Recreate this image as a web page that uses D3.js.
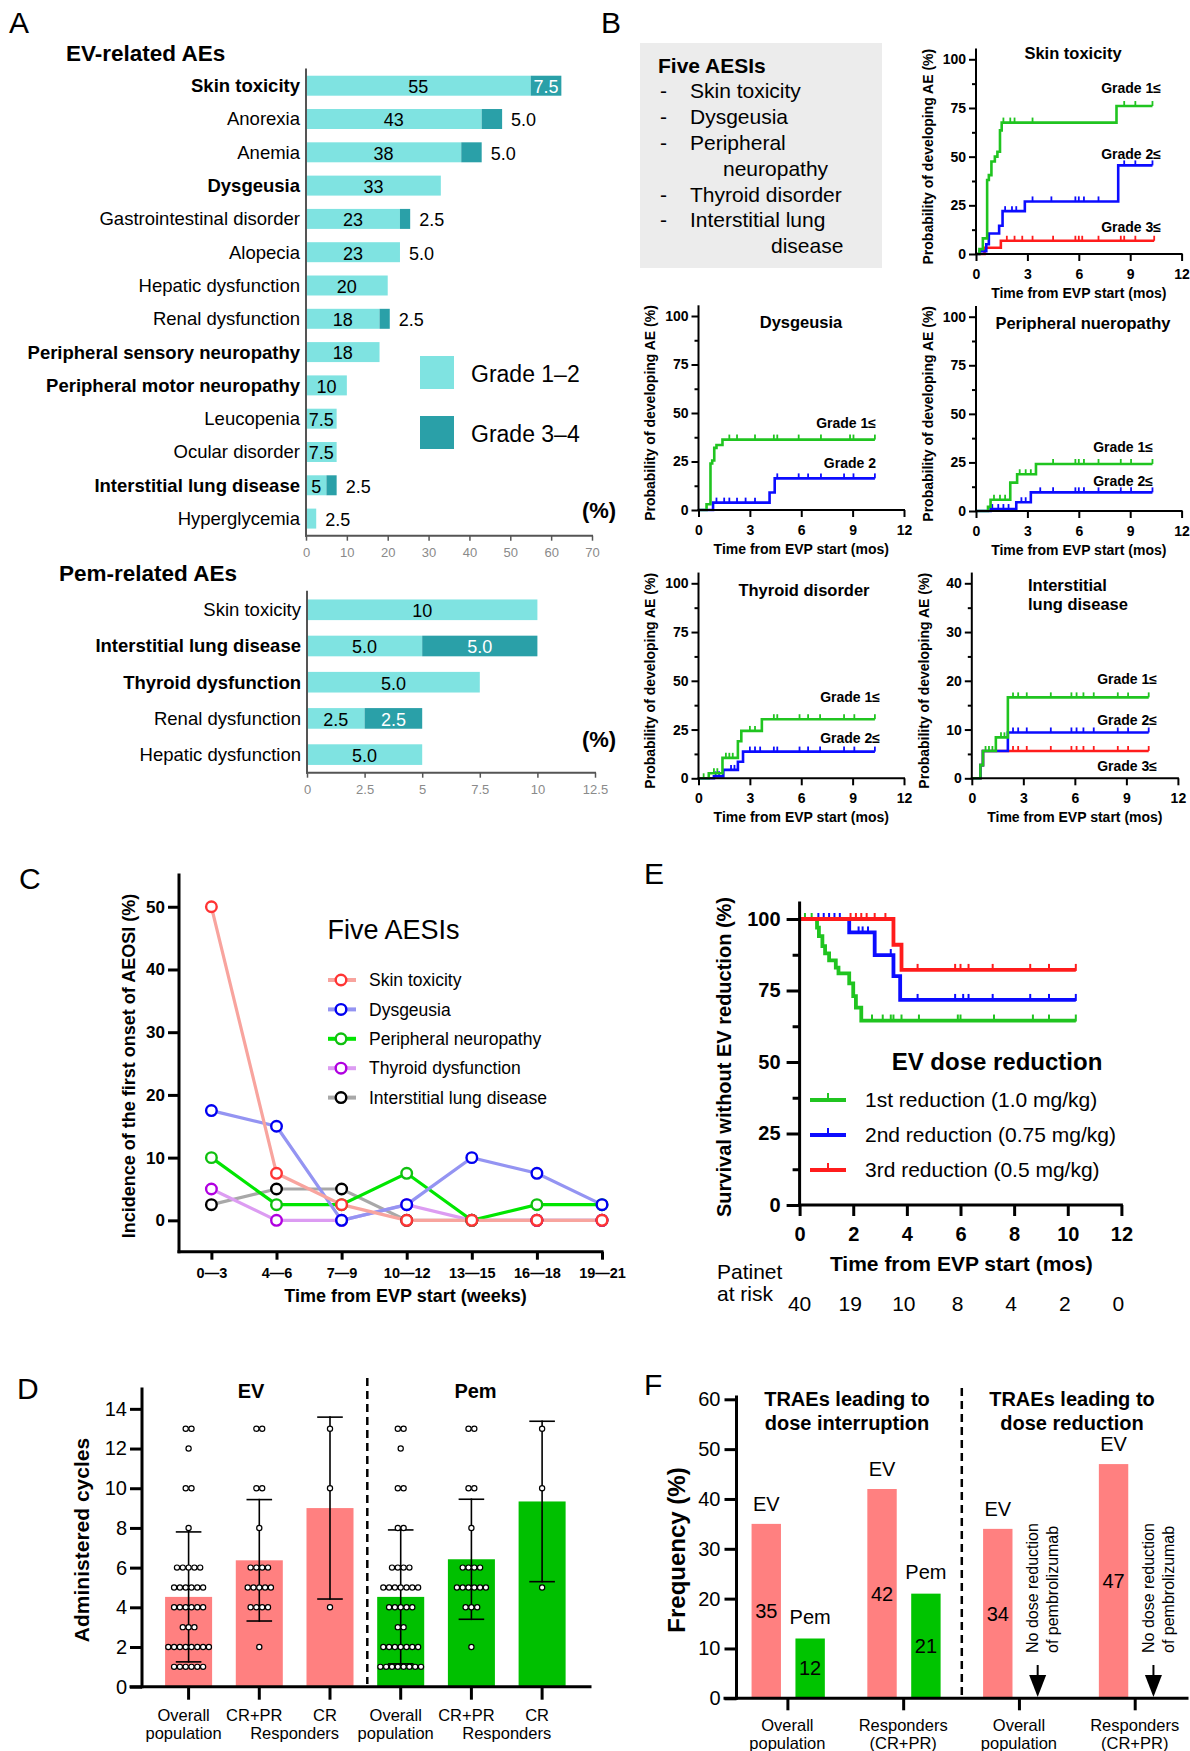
<!DOCTYPE html>
<html>
<head>
<meta charset="utf-8">
<script src="https://cdn.jsdelivr.net/npm/d3@7"></script>
<style>
  body { margin: 0; background: #fff; }
  svg { display: block; font-family: "Liberation Sans", Arial, sans-serif; }
</style>
</head>
<body>
<svg id="fig" width="1190" height="1751"></svg>
<script>
// ---------- A: AE bars ----------
const evCats = ["Skin toxicity", "Anorexia", "Anemia", "Dysgeusia", "Gastrointestinal disorder", "Alopecia",
  "Hepatic dysfunction", "Renal dysfunction", "Peripheral sensory neuropathy", "Peripheral motor neuropathy",
  "Leucopenia", "Ocular disorder", "Interstitial lung disease", "Hyperglycemia"];
const evBold = [1, 0, 0, 1, 0, 0, 0, 0, 1, 1, 0, 0, 1, 0];
const evGrade12 = [55, 43, 38, 33, 23, 23, 20, 18, 18, 10, 7.5, 7.5, 5, 2.5];
const evGrade34 = [7.5, 5, 5, 0, 2.5, 0, 0, 2.5, 0, 0, 0, 0, 2.5, 0];
const evLabel12 = ["55", "43", "38", "33", "23", "23", "20", "18", "18", "10", "7.5", "7.5", "5", ""];
const evLabel34 = ["7.5", "5.0", "5.0", "", "2.5", "5.0", "", "2.5", "", "", "", "", "2.5", "2.5"];
const evTicks = [0, 10, 20, 30, 40, 50, 60, 70];

const pemCats = ["Skin toxicity", "Interstitial lung disease", "Thyroid dysfunction", "Renal dysfunction", "Hepatic dysfunction"];
const pemBold = [0, 1, 1, 0, 0];
const pemGrade12 = [10, 5, 7.5, 2.5, 5];
const pemGrade34 = [0, 5, 0, 2.5, 0];
const pemLabel12 = ["10", "5.0", "5.0", "2.5", "5.0"];
const pemLabel34 = ["", "5.0", "", "2.5", ""];
const pemTicks = [0, 2.5, 5, 7.5, 10, 12.5];

// ---------- B: cumulative incidence (time in months, %) ----------
const aesiList = [["Skin toxicity"], ["Dysgeusia"], ["Peripheral", "neuropathy"], ["Thyroid disorder"], ["Interstitial lung", "disease"]];
const kmTicksX = [0, 3, 6, 9, 12];

const skinG1 = [[0, 0], [0.2, 2.5], [0.4, 8], [0.65, 38], [0.75, 40.5], [0.9, 47.5], [1.1, 50], [1.25, 52.5], [1.4, 63.5], [1.5, 67.5], [8.2, 76], [10.3, 76]];
const skinG1Cens = [1.6, 2.0, 2.25, 3.3, 8.65, 9.3, 10.3];
const skinG2 = [[0, 0], [0.2, 1.5], [0.6, 5], [0.75, 10.5], [1.35, 14.5], [1.55, 22], [2.85, 27], [8.3, 45.5], [10.3, 45.5]];
const skinG2Cens = [1.7, 2.1, 2.35, 3.3, 4.4, 5.8, 6.0, 6.3, 7.15, 8.65, 9.3, 10.3];
const skinG3 = [[0, 0], [0.5, 3.2], [1.45, 6.8], [10.4, 6.8]];
const skinG3Cens = [1.8, 2.25, 2.7, 3.3, 4.5, 5.8, 6.0, 6.2, 7.15, 8.45, 8.65, 9.3, 10.4];

const dysG1 = [[0, 0], [0.47, 3], [0.7, 24], [0.8, 25.5], [0.92, 32], [1.05, 33.5], [1.4, 36.3], [10.3, 36.3]];
const dysG1Cens = [1.8, 2.25, 3.3, 4.4, 4.6, 5.85, 7.15, 8.85, 9.05, 10.3];
const dysG2 = [[0, 0], [0.85, 3.8], [4.15, 9], [4.45, 16.3], [10.3, 16.3]];
const dysG2Cens = [1.05, 1.5, 1.8, 2.25, 2.75, 3.3, 4.6, 5.85, 6.4, 7.15, 8.5, 9.05, 10.3];

const pnG1 = [[0, 0], [0.7, 2.2], [0.85, 5.8], [2.0, 14.6], [2.4, 18.9], [3.5, 24.2], [10.3, 24.2]];
const pnG1Cens = [1.05, 1.4, 1.7, 2.55, 2.9, 3.2, 4.5, 5.8, 6.0, 6.3, 7.15, 8.45, 9.05, 10.3];
const pnG2 = [[0, 0], [0.85, 1], [2.35, 4.5], [3.2, 9.6], [10.3, 9.6]];
const pnG2Cens = [0.95, 1.3, 1.6, 1.9, 2.65, 2.9, 3.75, 4.5, 5.8, 6.0, 6.3, 7.15, 8.45, 9.05, 10.3];

const thyG1 = [[0, 0], [0.6, 2.6], [1.4, 10.5], [2.3, 19], [2.5, 24.3], [3.7, 30.3], [10.3, 30.3]];
const thyG1Cens = [0.3, 0.9, 1.1, 1.6, 1.8, 2.0, 3.0, 3.3, 4.4, 4.6, 5.9, 6.4, 7.1, 8.5, 9.1, 10.3];
const thyG2 = [[0, 0], [0.9, 1], [1.45, 4.3], [2.3, 8.5], [2.6, 13.7], [10.3, 13.7]];
const thyG2Cens = [1.0, 1.2, 1.9, 2.1, 3.0, 3.3, 3.6, 4.4, 4.6, 5.9, 6.4, 7.1, 8.5, 9.1, 10.3];

const ildG1 = [[0, 0], [0.5, 2.7], [0.65, 5.6], [1.4, 8.4], [2.1, 16.6], [10.3, 16.6]];
const ildG1Cens = [0.8, 1.0, 1.2, 1.7, 1.9, 2.4, 2.7, 3.2, 4.6, 5.8, 6.1, 6.5, 7.1, 8.5, 9.1, 10.3];
const ildG2 = [[0, 0], [0.5, 2.7], [0.65, 5.6], [2.1, 9.4], [10.3, 9.4]];
const ildG2Cens = [2.4, 2.7, 3.2, 4.6, 5.8, 6.1, 6.5, 7.1, 8.5, 9.1, 10.3];
const ildG3 = [[0, 0], [0.5, 2.7], [0.65, 5.6], [10.3, 5.6]];
const ildG3Cens = [2.4, 2.7, 3.2, 4.6, 5.8, 6.1, 6.5, 7.1, 8.5, 9.1, 10.3];

// ---------- C: first onset by week bin ----------
const weekBins = ["0\u20143", "4\u20146", "7\u20149", "10\u201412", "13\u201415", "16\u201418", "19\u201421"];
const aesiNames = ["Skin toxicity", "Dysgeusia", "Peripheral neuropathy", "Thyroid dysfunction", "Interstitial lung disease"];
const onsetSkin = [50, 7.5, 2.5, 0, 0, 0, 0];
const onsetDys = [17.5, 15, 0, 2.5, 10, 7.5, 2.5];
const onsetPN = [10, 2.5, 2.5, 7.5, 0, 2.5, 2.5];
const onsetThy = [5, 0, 0, 2.5, 0, 0, 0];
const onsetILD = [2.5, 5, 5, 0, 0, 0, 0];
const onsetTicks = [0, 10, 20, 30, 40, 50];

// ---------- D: administered cycles ----------
const cycleGroups = ["EV overall", "EV CR+PR", "EV CR", "Pem overall", "Pem CR+PR", "Pem CR"];
const cycleLab1 = ["Overall", "CR+PR", "CR", "Overall", "CR+PR", "CR"];
const cycleLab2 = ["population", "", "", "population", "", ""];
const cyclesEvAll = [13, 13, 12, 10, 10, 8, 6, 6, 6, 6, 6, 5, 5, 5, 5, 5, 5, 4, 4, 4, 4, 4, 4, 3, 3, 3, 2, 2, 2, 2, 2, 2, 2, 2, 1, 1, 1, 1, 1, 1];
const cyclesEvResp = [13, 13, 10, 10, 8, 6, 6, 6, 6, 5, 5, 5, 5, 5, 4, 4, 4, 4, 2];
const cyclesEvCR = [13, 10, 4];
const cyclesPemAll = [13, 13, 12, 10, 10, 8, 8, 6, 6, 6, 6, 5, 5, 5, 5, 5, 5, 5, 4, 4, 4, 4, 4, 3, 3, 2, 2, 2, 2, 2, 2, 2, 1, 1, 1, 1, 1, 1, 1, 1];
const cyclesPemResp = [13, 13, 10, 10, 8, 6, 6, 6, 6, 5, 5, 5, 5, 5, 5, 4, 4, 4, 2];
const cyclesPemCR = [13, 10, 5];
const cycleTicks = [0, 2, 4, 6, 8, 10, 12, 14];

// ---------- E: survival without EV reduction ----------
const redNames = ["1st reduction (1.0 mg/kg)", "2nd reduction (0.75 mg/kg)", "3rd reduction (0.5 mg/kg)"];
const red1 = [[0, 100], [0.65, 97], [0.72, 94], [0.85, 90.5], [0.95, 88], [1.1, 85.5], [1.35, 83], [1.45, 81], [1.85, 77.5], [2.0, 73], [2.1, 69], [2.3, 64.5], [10.3, 64.5]];
const red1Cens = [0.2, 0.45, 2.7, 3.1, 3.4, 3.5, 3.8, 4.45, 5.9, 6.0, 7.25, 8.7, 9.3, 10.3];
const red2 = [[0, 100], [1.85, 95.3], [2.8, 87.4], [3.5, 80], [3.75, 71.7], [10.3, 71.7]];
const red2Cens = [0.7, 0.9, 1.1, 1.3, 1.5, 2.2, 2.35, 2.55, 3.4, 4.4, 5.8, 6.1, 6.3, 7.2, 8.6, 9.3, 10.3];
const red3 = [[0, 100], [3.5, 91], [3.8, 82.2], [10.3, 82.2]];
const red3Cens = [1.9, 2.1, 2.3, 2.5, 2.8, 3.2, 4.4, 5.8, 6.0, 6.3, 7.2, 8.6, 9.3, 10.3];
const riskTimes = [0, 2, 4, 6, 8, 10, 12];
const riskN = [40, 19, 10, 8, 4, 2, 0];
const survTicks = [0, 25, 50, 75, 100];

// ---------- F: TRAEs leading to dose change ----------
const freqGroups = ["int-overall", "int-resp", "red-overall", "red-resp"];
const freqLab1 = ["Overall", "Responders", "Overall", "Responders"];
const freqLab2 = ["population", "(CR+PR)", "population", "(CR+PR)"];
const freqEV = [35, 42, 34, 47];
const freqPem = [12, 21, null, null];
const freqTicks = [0, 10, 20, 30, 40, 50, 60];

// ================= drawing =================
const LIGHT = "#7fe3e1", DARK = "#2aa0a8";
const GREEN = "#20c420", BLUE = "#0c0cff", RED = "#ff1c1c";
const svg = d3.select("#fig");
svg.append("rect").attr("width", 1190).attr("height", 1751).attr("fill", "#fff");

function label(g, x, y, s, size, o = {}) {
  const t = g.append("text").attr("x", x).attr("y", y).attr("dy", "0.35em")
    .attr("font-size", size).attr("text-anchor", o.anchor || "start")
    .attr("fill", o.fill || "#000").text(s);
  if (o.bold) t.attr("font-weight", "bold");
  return t;
}
function vlabel(g, x, y, s, size, bold) {
  return g.append("text").attr("transform", `translate(${x},${y}) rotate(-90)`)
    .attr("dy", "0.35em").attr("text-anchor", "middle").attr("font-size", size)
    .attr("font-weight", bold ? "bold" : "normal").text(s);
}
function styleAxis(a, size, bold, sw, color) {
  a.attr("font-family", null);
  a.select(".domain").remove();
  a.selectAll(".tick line").attr("stroke", color || "#000").attr("stroke-width", sw);
  a.selectAll(".tick text").attr("font-size", size).attr("font-weight", bold ? "bold" : "normal").attr("fill", "#000");
}
function axisLine(g, x1, y1, x2, y2, sw, color) {
  g.append("line").attr("x1", x1).attr("y1", y1).attr("x2", x2).attr("y2", y2)
    .attr("stroke", color || "#000").attr("stroke-width", sw).attr("stroke-linecap", "square");
}
function valueAt(pts, t) {
  let v = pts[0][1];
  pts.forEach(p => { if (p[0] <= t) v = p[1]; });
  return v;
}

// panel letters
[["A", 9, 22], ["B", 601, 22], ["C", 19, 878], ["E", 644, 873], ["D", 17, 1388], ["F", 644, 1384]].forEach(d =>
  label(svg, d[1], d[2], d[0], 30));

// ---------- panel A ----------
function hbars(o) {
  const g = svg.append("g");
  const x = d3.scaleLinear().domain(o.dom).range(o.xr);
  const y = d3.scaleBand().domain(o.cats).range(o.yr).padding(o.pad);
  const bw = y.bandwidth();
  o.cats.forEach((c, i) => {
    const a = o.g12[i], b = o.g34[i], y0 = y(c), cy = y0 + bw / 2;
    g.append("rect").attr("x", x(0)).attr("y", y0).attr("width", x(a) - x(0)).attr("height", bw).attr("fill", LIGHT);
    if (b > 0) g.append("rect").attr("x", x(a)).attr("y", y0).attr("width", x(a + b) - x(a)).attr("height", bw).attr("fill", DARK);
    if (o.lab12[i]) label(g, (x(0) + x(a)) / 2, cy + 1, o.lab12[i], 18, { anchor: "middle" });
    if (o.lab34[i]) {
      if (b > 0 && x(a + b) - x(a) > 28) label(g, (x(a) + x(a + b)) / 2, cy + 1, o.lab34[i], 18, { anchor: "middle", fill: "#fff" });
      else label(g, x(a + b) + 9, cy + 1, o.lab34[i], 18);
    }
    label(g, x(0) - 6, cy, c, 18.5, { anchor: "end", bold: o.bold[i] });
  });
  const ax = g.append("g").attr("transform", `translate(0,${o.axisY})`)
    .call(d3.axisBottom(x).tickValues(o.ticks).tickSize(5).tickPadding(7).tickFormat(d => d));
  styleAxis(ax, 13, false, 1.5, "#555");
  ax.selectAll(".tick text").attr("fill", "#8a8a8a");
  axisLine(g, x(0), o.axisTop, x(0), o.axisY, 2, "#555");
  axisLine(g, x(0), o.axisY, o.xr[1], o.axisY, 2, "#555");
  label(g, 599, o.pctY, "(%)", 22, { anchor: "middle", bold: true });
  label(g, o.titleX, o.titleY, o.title, 22.5, { bold: true });
}
hbars({ cats: evCats, bold: evBold, g12: evGrade12, g34: evGrade34, lab12: evLabel12, lab34: evLabel34,
  dom: [0, 70], xr: [306, 592], yr: [62.4, 541.9], pad: 0.4, ticks: evTicks, axisY: 535.7, axisTop: 69.6,
  pctY: 510, title: "EV-related AEs", titleX: 66, titleY: 53 });
hbars({ cats: pemCats, bold: pemBold, g12: pemGrade12, g34: pemGrade34, lab12: pemLabel12, lab34: pemLabel34,
  dom: [0, 12.5], xr: [307, 595], yr: [583.9, 780.5], pad: 0.43, ticks: pemTicks, axisY: 772.7, axisTop: 591.7,
  pctY: 739, title: "Pem-related AEs", titleX: 59, titleY: 573 });
// legend A
const legA = svg.append("g");
legA.append("rect").attr("x", 420).attr("y", 356).attr("width", 34).attr("height", 33).attr("fill", LIGHT);
legA.append("rect").attr("x", 420).attr("y", 416).attr("width", 34).attr("height", 33).attr("fill", DARK);
label(legA, 471, 374, "Grade 1\u20132", 23);
label(legA, 471, 434, "Grade 3\u20134", 23);

// ---------- panel B ----------
const box = svg.append("g");
box.append("rect").attr("x", 640).attr("y", 43).attr("width", 242).attr("height", 225).attr("fill", "#ececec");
label(box, 658, 66, "Five AESIs", 21, { bold: true });
{
  let row = 0;
  const indent = [0, 0, 33, 0, 81];
  aesiList.forEach((lines, i) => {
    lines.forEach((s, j) => {
      const yy = 91 + row * 25.8;
      if (j === 0) { label(box, 660, yy, "-", 21); label(box, 690, yy, s, 21); }
      else label(box, 690 + indent[i], yy, s, 21);
      row++;
    });
  });
}

function kmPlot(o) {
  const g = svg.append("g");
  const h = o.bottom - o.top;
  const x = d3.scaleLinear().domain([0, 12]).range([o.left, o.right]);
  const y = d3.scaleLinear().domain([0, o.ymax]).range([o.bottom, o.top]);
  const line = d3.line().x(d => x(d[0])).y(d => y(d[1])).curve(d3.curveStepAfter);
  o.series.forEach(s => {
    g.append("path").attr("d", line(s.pts)).attr("fill", "none").attr("stroke", s.color).attr("stroke-width", 2.6);
    g.selectAll(null).data(s.cens).enter().append("line")
      .attr("x1", t => x(t)).attr("x2", t => x(t))
      .attr("y1", t => y(valueAt(s.pts, t))).attr("y2", t => y(valueAt(s.pts, t)) - 5)
      .attr("stroke", s.color).attr("stroke-width", 1.8);
  });
  const majors = d3.range(0, o.ymax + 0.001, o.ystep);
  const minors = d3.range(o.ystep / 2, o.ymax, o.ystep);
  const ay = g.append("g").attr("transform", `translate(${o.left},0)`)
    .call(d3.axisLeft(y).tickValues(majors).tickSize(7).tickPadding(3));
  styleAxis(ay, 14, true, 2);
  const am = g.append("g").attr("transform", `translate(${o.left},0)`)
    .call(d3.axisLeft(y).tickValues(minors).tickSize(4).tickFormat(""));
  styleAxis(am, 14, true, 2);
  const ax = g.append("g").attr("transform", `translate(0,${o.bottom})`)
    .call(d3.axisBottom(x).tickValues(kmTicksX).tickSize(7).tickPadding(8));
  styleAxis(ax, 14, true, 2);
  axisLine(g, o.left, o.bottom, o.left, o.top - h * 0.05, 2);
  axisLine(g, o.left, o.bottom, o.right, o.bottom, 2);
  label(g, (o.left + o.right) / 2, o.bottom + 39, "Time from EVP start (mos)", 14, { anchor: "middle", bold: true });
  vlabel(g, o.left - 48, (o.top + o.bottom) / 2, "Probability of developing AE (%)", 14, true);
  o.title.forEach((s, i) => label(g, o.titleX, o.titleY + i * 19.5, s, 16.5, { anchor: o.titleAnchor || "middle", bold: true }));
  o.grades.forEach((s, i) => label(g, o.gradeX, y(o.gradeY[i]), s, 14, { anchor: "end", bold: true }));
}
kmPlot({ left: 976, right: 1181.6, bottom: 254, top: 59.3, ymax: 100, ystep: 25,
  title: ["Skin toxicity"], titleX: 1073, titleY: 53.5, gradeX: 1161, grades: ["Grade 1\u2264", "Grade 2\u2264", "Grade 3\u2264"], gradeY: [85.3, 51.4, 13.9],
  series: [{ pts: skinG3, cens: skinG3Cens, color: RED }, { pts: skinG2, cens: skinG2Cens, color: BLUE }, { pts: skinG1, cens: skinG1Cens, color: GREEN }] });
kmPlot({ left: 698.5, right: 904, bottom: 510, top: 316, ymax: 100, ystep: 25,
  title: ["Dysgeusia"], titleX: 801, titleY: 322, gradeX: 876, grades: ["Grade 1\u2264", "Grade 2"], gradeY: [44.8, 24.4],
  series: [{ pts: dysG2, cens: dysG2Cens, color: BLUE }, { pts: dysG1, cens: dysG1Cens, color: GREEN }] });
kmPlot({ left: 976, right: 1181.6, bottom: 511, top: 316.7, ymax: 100, ystep: 25,
  title: ["Peripheral nueropathy"], titleX: 1083, titleY: 323, gradeX: 1153, grades: ["Grade 1\u2264", "Grade 2\u2264"], gradeY: [33.1, 15.4],
  series: [{ pts: pnG2, cens: pnG2Cens, color: BLUE }, { pts: pnG1, cens: pnG1Cens, color: GREEN }] });
kmPlot({ left: 698.5, right: 904, bottom: 778.3, top: 583.3, ymax: 100, ystep: 25,
  title: ["Thyroid disorder"], titleX: 804, titleY: 590, gradeX: 880, grades: ["Grade 1\u2264", "Grade 2\u2264"], gradeY: [41.5, 20.5],
  series: [{ pts: thyG2, cens: thyG2Cens, color: BLUE }, { pts: thyG1, cens: thyG1Cens, color: GREEN }] });
kmPlot({ left: 971.8, right: 1177.9, bottom: 778.3, top: 583.3, ymax: 40, ystep: 10,
  title: ["Interstitial", "lung disease"], titleX: 1028, titleY: 585, titleAnchor: "start", gradeX: 1157,
  grades: ["Grade 1\u2264", "Grade 2\u2264", "Grade 3\u2264"], gradeY: [20.4, 12, 2.5],
  series: [{ pts: ildG3, cens: ildG3Cens, color: RED }, { pts: ildG2, cens: ildG2Cens, color: BLUE }, { pts: ildG1, cens: ildG1Cens, color: GREEN }] });

// ---------- panel C ----------
{
  const g = svg.append("g");
  const x = d3.scalePoint().domain(weekBins).range([211.4, 602]);
  const y = d3.scaleLinear().domain([-5, 55]).range([1251.7, 875.4]);
  const series = [
    { v: onsetILD, line: "#a8a8a8", dot: "#000" },
    { v: onsetThy, line: "#dc9cf2", dot: "#b000e0" },
    { v: onsetPN, line: "#00e600", dot: "#10c010" },
    { v: onsetDys, line: "#9494f2", dot: "#0000f0" },
    { v: onsetSkin, line: "#f8a49e", dot: "#ff3434" }
  ];
  const line = d3.line().x((d, i) => x(weekBins[i])).y(d => y(d));
  series.forEach(s => {
    g.append("path").attr("d", line(s.v)).attr("fill", "none").attr("stroke", s.line).attr("stroke-width", 3.2);
  });
  series.forEach(s => {
    g.selectAll(null).data(s.v).enter().append("circle")
      .attr("cx", (d, i) => x(weekBins[i])).attr("cy", d => y(d)).attr("r", 5.3)
      .attr("fill", "#fff").attr("stroke", s.dot).attr("stroke-width", 2.4);
  });
  const ay = g.append("g").attr("transform", "translate(179,0)").call(d3.axisLeft(y).tickValues(onsetTicks).tickSize(11).tickPadding(3));
  styleAxis(ay, 17, true, 3);
  const ax = g.append("g").attr("transform", "translate(0,1251.7)").call(d3.axisBottom(x).tickSize(8).tickPadding(8));
  styleAxis(ax, 14.5, true, 3);
  axisLine(g, 179, 875, 179, 1251.7, 3);
  axisLine(g, 179, 1251.7, 602, 1251.7, 3);
  label(g, 405.5, 1296, "Time from EVP start (weeks)", 18, { anchor: "middle", bold: true });
  vlabel(g, 128.5, 1066, "Incidence of the first onset of AEOSI (%)", 18, true);
  label(g, 327.5, 930, "Five AESIs", 27);
  const legOrder = [4, 3, 2, 1, 0];
  aesiNames.forEach((n, i) => {
    const s = series[legOrder[i]], yy = 980 + i * 29.4;
    axisLine(g, 330, yy, 354, yy, 4, s.line);
    g.append("circle").attr("cx", 341).attr("cy", yy).attr("r", 5.3).attr("fill", "#fff").attr("stroke", s.dot).attr("stroke-width", 2.4);
    label(g, 369, yy, n, 17.5);
  });
}

// ---------- panel D ----------
{
  const g = svg.append("g");
  const sets = [cyclesEvAll, cyclesEvResp, cyclesEvCR, cyclesPemAll, cyclesPemResp, cyclesPemCR];
  const x = d3.scaleBand().domain(cycleGroups).range([141.4, 589.3]).padding(0.335);
  const y = d3.scaleLinear().domain([0, 15]).range([1686.7, 1389]);
  const bw = x.bandwidth();
  sets.forEach((vals, i) => {
    const cx = x(cycleGroups[i]) + bw / 2;
    const m = d3.mean(vals), sd = d3.deviation(vals);
    g.append("rect").attr("x", x(cycleGroups[i])).attr("y", y(m)).attr("width", bw).attr("height", y(0) - y(m))
      .attr("fill", i < 3 ? "#ff8080" : "#00c000");
    axisLine(g, cx, y(m - sd), cx, y(m + sd), 1.6);
    axisLine(g, cx - 12, y(m + sd), cx + 12, y(m + sd), 1.6);
    axisLine(g, cx - 12, y(m - sd), cx + 12, y(m - sd), 1.6);
    d3.rollups(vals, v => v.length, d => d).forEach(([v, n]) => {
      for (let k = 0; k < n; k++) {
        g.append("circle").attr("cx", cx + (k - (n - 1) / 2) * 5.8).attr("cy", y(v)).attr("r", 2.6)
          .attr("fill", "#fff").attr("stroke", "#000").attr("stroke-width", 1.2);
      }
    });
    label(g, cx - 5, 1715, cycleLab1[i], 16.5, { anchor: "middle" });
    if (cycleLab2[i]) label(g, cx - 5, 1733, cycleLab2[i], 16.5, { anchor: "middle" });
  });
  [1, 4].forEach(i => label(g, x(cycleGroups[i]) + bw + (x.step() - bw) / 2, 1733, "Responders", 16.5, { anchor: "middle" }));
  const ay = g.append("g").attr("transform", "translate(142,0)").call(d3.axisLeft(y).tickValues(cycleTicks).tickSize(12).tickPadding(3));
  styleAxis(ay, 20, false, 3);
  const ax = g.append("g").attr("transform", "translate(0,1686.7)").call(d3.axisBottom(x).tickSize(13).tickFormat(""));
  styleAxis(ax, 16, false, 3);
  axisLine(g, 142, 1389, 142, 1686.7, 3);
  axisLine(g, 131, 1686.7, 590, 1686.7, 3);
  g.append("line").attr("x1", 367.3).attr("x2", 367.3).attr("y1", 1378).attr("y2", 1684)
    .attr("stroke", "#000").attr("stroke-width", 2.5).attr("stroke-dasharray", "8,5");
  label(g, 251, 1391, "EV", 20, { anchor: "middle", bold: true });
  label(g, 475.5, 1391, "Pem", 20, { anchor: "middle", bold: true });
  vlabel(g, 81.6, 1540, "Administered cycles", 21, true);
}

// ---------- panel E ----------
{
  const g = svg.append("g");
  const x = d3.scaleLinear().domain([0, 12]).range([799.6, 1121.4]);
  const y = d3.scaleLinear().domain([0, 100]).range([1205, 919]);
  const line = d3.line().x(d => x(d[0])).y(d => y(d[1])).curve(d3.curveStepAfter);
  const curves = [{ pts: red1, cens: red1Cens, color: GREEN }, { pts: red2, cens: red2Cens, color: BLUE }, { pts: red3, cens: red3Cens, color: RED }];
  curves.forEach(s => {
    g.append("path").attr("d", line(s.pts)).attr("fill", "none").attr("stroke", s.color).attr("stroke-width", 3.8);
    g.selectAll(null).data(s.cens).enter().append("line")
      .attr("x1", t => x(t)).attr("x2", t => x(t))
      .attr("y1", t => y(valueAt(s.pts, t)) + 1).attr("y2", t => y(valueAt(s.pts, t)) - 6)
      .attr("stroke", s.color).attr("stroke-width", 2);
  });
  const ay = g.append("g").attr("transform", "translate(799.6,0)").call(d3.axisLeft(y).tickValues(survTicks).tickSize(13).tickPadding(6));
  styleAxis(ay, 20, true, 3);
  const am = g.append("g").attr("transform", "translate(799.6,0)").call(d3.axisLeft(y).tickValues([12.5, 37.5, 62.5, 87.5]).tickSize(7).tickFormat(""));
  styleAxis(am, 20, true, 3);
  const ax = g.append("g").attr("transform", "translate(0,1205)").call(d3.axisBottom(x).tickValues(riskTimes).tickSize(11).tickPadding(11));
  styleAxis(ax, 20, true, 3);
  axisLine(g, 799.6, 903, 799.6, 1205, 3);
  axisLine(g, 799.6, 1205, 1121.4, 1205, 3);
  label(g, 961.4, 1264, "Time from EVP start (mos)", 21, { anchor: "middle", bold: true });
  vlabel(g, 724, 1057, "Survival without EV reduction (%)", 20, true);
  label(g, 997, 1062, "EV dose reduction", 24, { anchor: "middle", bold: true });
  redNames.forEach((n, i) => {
    const yy = 1100 + i * 35;
    axisLine(g, 812, yy, 844, yy, 4, curves[i].color);
    axisLine(g, 828, yy, 828, yy - 6, 2, curves[i].color);
    label(g, 865, yy, n, 21);
  });
  label(g, 717, 1272, "Patinet", 21);
  label(g, 717, 1294, "at risk", 21);
  riskN.forEach((n, i) => label(g, x(riskTimes[i]) - (i ? 3 : 0), 1304, n, 21, { anchor: "middle" }));
}

// ---------- panel F ----------
{
  const g = svg.append("g");
  const gx = d3.scalePoint().domain(freqGroups).range([787.4, 1134.7]);
  const sub = d3.scaleBand().domain(["EV", "Pem"]).range([-43.3, 44.9]).paddingInner(0.33).paddingOuter(0.17);
  const y = d3.scaleLinear().domain([0, 60]).range([1698.3, 1399.3]);
  const bw = sub.bandwidth();
  freqGroups.forEach((grp, i) => {
    const ex = gx(grp) + sub("EV"), px = gx(grp) + sub("Pem");
    g.append("rect").attr("x", ex).attr("y", y(freqEV[i])).attr("width", bw).attr("height", y(0) - y(freqEV[i])).attr("fill", "#ff8080");
    label(g, ex + bw / 2, y(freqEV[i] / 2), freqEV[i], 20, { anchor: "middle" });
    label(g, ex + bw / 2, y(freqEV[i]) - 20, "EV", 20, { anchor: "middle" });
    if (freqPem[i] != null) {
      g.append("rect").attr("x", px).attr("y", y(freqPem[i])).attr("width", bw).attr("height", y(0) - y(freqPem[i])).attr("fill", "#00c400");
      label(g, px + bw / 2, y(freqPem[i] / 2), freqPem[i], 20, { anchor: "middle" });
      label(g, px + bw / 2, y(freqPem[i]) - 22, "Pem", 20, { anchor: "middle" });
    } else {
      const ax0 = px + bw / 2 - 4;
      axisLine(g, ax0, 1666, ax0, 1676, 2);
      g.append("path").attr("d", `M${ax0 - 8.5},1675 L${ax0 + 8.5},1675 L${ax0},1697 Z`).attr("fill", "#000");
      [["No dose reduction", 0.5], ["of pembrolizumab", 20.5]].forEach(([s, dx]) =>
        g.append("text").attr("transform", `translate(${ax0 + dx},1653) rotate(-90)`).attr("font-size", 16).text(s));
    }
    label(g, gx(grp), 1725, freqLab1[i], 16.5, { anchor: "middle" });
    label(g, gx(grp), 1743, freqLab2[i], 16.5, { anchor: "middle" });
  });
  const ay = g.append("g").attr("transform", "translate(736.5,0)").call(d3.axisLeft(y).tickValues(freqTicks).tickSize(12).tickPadding(4));
  styleAxis(ay, 20, false, 3);
  const ax = g.append("g").attr("transform", "translate(0,1698.3)").call(d3.axisBottom(gx).tickSize(12).tickFormat(""));
  styleAxis(ax, 16, false, 3);
  axisLine(g, 736.5, 1397, 736.5, 1698.3, 3);
  axisLine(g, 725, 1698.3, 1187, 1698.3, 3);
  g.append("line").attr("x1", 961.8).attr("x2", 961.8).attr("y1", 1388).attr("y2", 1695)
    .attr("stroke", "#000").attr("stroke-width", 2.5).attr("stroke-dasharray", "8,5");
  label(g, 847, 1399, "TRAEs leading to", 20, { anchor: "middle", bold: true });
  label(g, 847, 1423, "dose interruption", 20, { anchor: "middle", bold: true });
  label(g, 1072, 1399, "TRAEs leading to", 20, { anchor: "middle", bold: true });
  label(g, 1072, 1423, "dose reduction", 20, { anchor: "middle", bold: true });
  vlabel(g, 677, 1550, "Frequency (%)", 24, true);
}
</script>
</body>
</html>
